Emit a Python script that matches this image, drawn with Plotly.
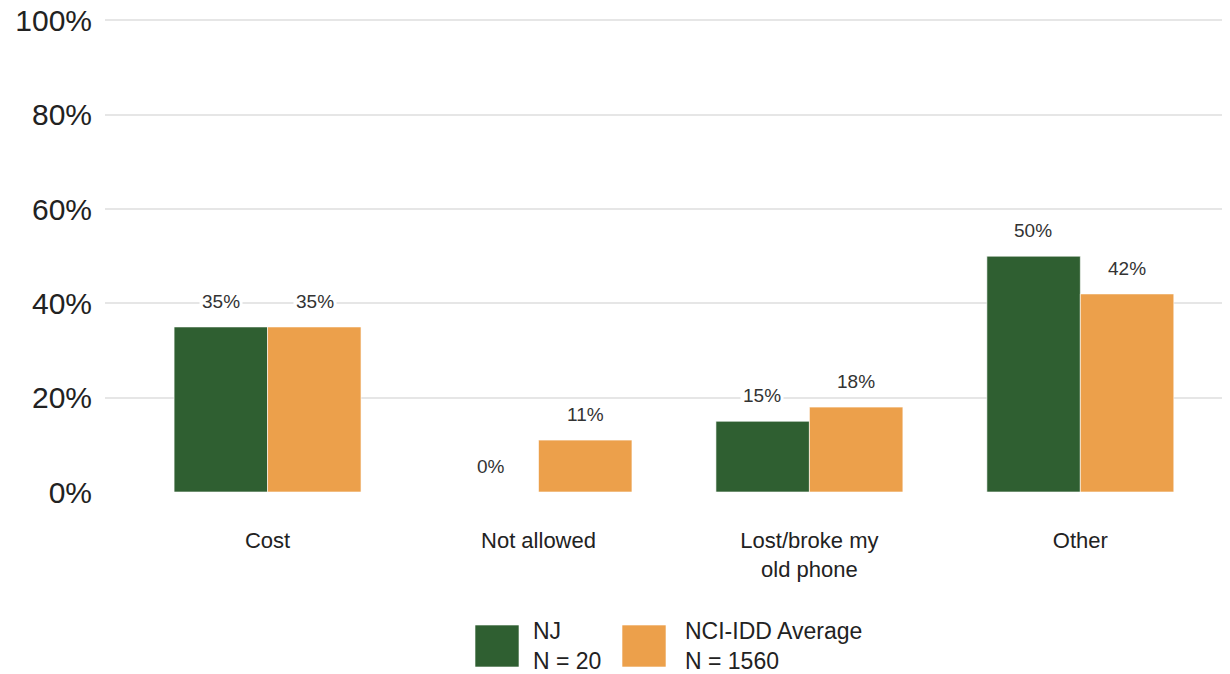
import plotly.graph_objects as go

# %%
# data
categories = ["Cost", "Not allowed", "Lost/broke my<br>old phone", "Other"]
nj_values = [35, 0, 15, 50]
nci_values = [35, 11, 18, 42]
series_names = ["NJ<br>N = 20", "NCI-IDD Average<br>N = 1560"]
y_ticks = [0, 20, 40, 60, 80, 100]

green = "#2f5f31"
orange = "#eca04b"
font_family = "Liberation Sans, Arial, sans-serif"

# the page body adds an 8px margin, so the figure is drawn 8px smaller
# and every target pixel position below is shifted by that offset
W, H = 1222, 666
L, T, R, B = 97, 10, 2, 182
pw, ph = W - L - R, H - T - B


def px_x(x):
    return (x - 8 - L) / pw


def px_y(y):
    return (H - B - (y - 8)) / ph


# %%
# bars
fig = go.Figure()
for vals, col, off in [(nj_values, green, -47), (nci_values, orange, 47)]:
    fig.add_trace(go.Bar(
        x=categories,
        y=[v / 100 for v in vals],
        marker=dict(color=col, line=dict(color="rgba(255,255,255,0.6)", width=1)),
        showlegend=False,
        hoverinfo="skip",
    ))
    # value labels with a white box so gridlines break behind them
    for cat, v in zip(categories, vals):
        fig.add_annotation(
            x=cat, y=v / 100, xshift=off, yshift=12,
            text=f"{v}%", showarrow=False, yanchor="bottom",
            bgcolor="white", borderpad=2,
            font=dict(size=19, color="#333333", family=font_family),
        )

# %%
# custom legend with big square swatches
legend_items = [(series_names[0], green, 475, 531), (series_names[1], orange, 622, 683)]
for name, col, sx, tx in legend_items:
    fig.add_shape(type="rect", xref="paper", yref="paper",
                  x0=px_x(sx), x1=px_x(sx + 44),
                  y0=px_y(667), y1=px_y(625),
                  fillcolor=col, line=dict(color="rgba(255,255,255,0.6)", width=1))
    fig.add_annotation(xref="paper", yref="paper",
                       x=px_x(tx), y=px_y(646),
                       text=name, showarrow=False, xanchor="left", yanchor="middle",
                       align="left",
                       font=dict(size=23, color="#222222", family=font_family))

fig.update_layout(
    width=W, height=H,
    barmode="group", bargap=0.31, bargroupgap=0,
    plot_bgcolor="white", paper_bgcolor="white",
    margin=dict(l=L, r=R, t=T, b=B, autoexpand=False),
    font=dict(family=font_family),
    xaxis=dict(
        range=[-0.6, 3.545], showgrid=False, showline=False, ticks="",
        tickfont=dict(size=22, color="#222222"), ticklabelstandoff=33,
        automargin=False,
    ),
    yaxis=dict(
        range=[0, 1.005], tickvals=[t / 100 for t in y_ticks],
        ticktext=[f"{t}%" for t in y_ticks],
        gridcolor="#e6e6e6", gridwidth=1.5, zeroline=False,
        tickfont=dict(size=30, color="#222222"), ticklabelstandoff=12,
        ticklabeloverflow="allow", automargin=False,
    ),
)

fig.write_html("out.html")
